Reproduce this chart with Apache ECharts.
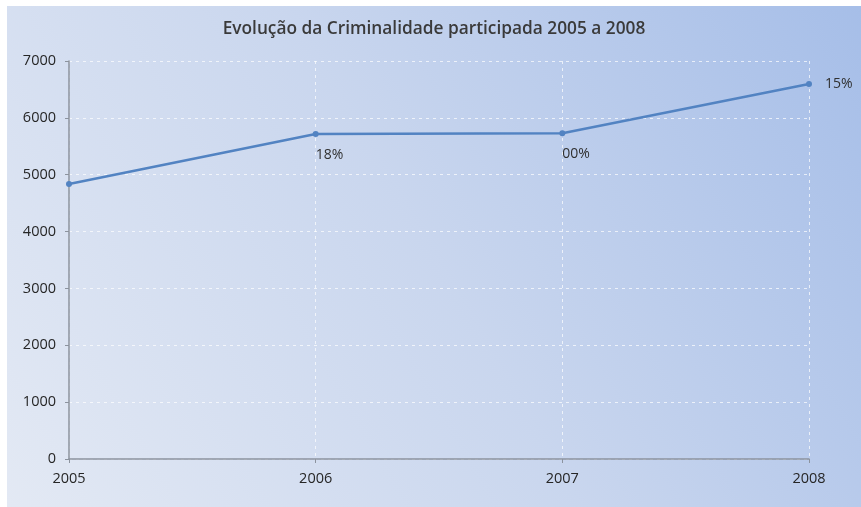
<!DOCTYPE html>
<html>
<head>
<meta charset="utf-8">
<script src="https://cdn.jsdelivr.net/npm/echarts@6/dist/echarts.min.js"></script>
<style>
  html, body { margin: 0; padding: 0; background: #ffffff; width: 861px; height: 507px; overflow: hidden; }
  #chart { position: absolute; left: 7px; top: 6px; width: 854px; height: 501px; }
</style>
</head>
<body>
<div id="chart"></div>
<script>
// Reported crime per year
const years = ['2005', '2006', '2007', '2008'];
const ocorrencias = [4835, 5715, 5730, 6595];
// Year-on-year change shown next to each point
const variacao = ['', '18%', '00%', '15%'];
const yTicks = { min: 0, max: 7000, interval: 1000 };

const chart = echarts.init(document.getElementById('chart'));

const labelPos = ['bottom', 'bottom', 'bottom', 'right'];
const font = 'Open Sans';

chart.setOption({
  animation: false,
  backgroundColor: {
    type: 'linear', x: 0, y: 1, x2: 1, y2: 0,
    colorStops: [
      { offset: 0, color: '#e3e9f4' },
      { offset: 0.5, color: '#c9d6ee' },
      { offset: 1, color: '#a6bee8' }
    ]
  },
  title: {
    text: 'Evolução da Criminalidade participada 2005 a 2008',
    left: 'center',
    top: 10,
    textStyle: { fontFamily: font, fontSize: 17.3, fontWeight: 600, color: '#3a3a3a' }
  },
  grid: { left: 62, top: 55, width: 740, height: 398, containLabel: false },
  xAxis: {
    type: 'category',
    data: years,
    boundaryGap: false,
    axisLine: { lineStyle: { color: '#8c939e', width: 1.5 } },
    axisTick: { show: true, length: 4, lineStyle: { color: '#8c939e' } },
    axisLabel: { margin: 12, fontFamily: font, fontSize: 14.5, color: '#262626' },
    splitLine: { show: true, lineStyle: { type: [3, 4], color: 'rgba(255,255,255,0.7)', width: 1 } }
  },
  yAxis: {
    type: 'value',
    min: yTicks.min,
    max: yTicks.max,
    interval: yTicks.interval,
    axisLine: { show: true, lineStyle: { color: '#8c939e', width: 1.5 } },
    axisTick: { show: true, length: 4, lineStyle: { color: '#8c939e' } },
    axisLabel: { margin: 13, fontFamily: font, fontSize: 14.5, color: '#262626', formatter: v => String(v) },
    splitLine: { show: true, lineStyle: { type: [3, 4], color: 'rgba(255,255,255,0.7)', width: 1 } }
  },
  series: [{
    type: 'line',
    data: ocorrencias.map((v, i) => ({
      value: v,
      label: {
        show: variacao[i] !== '',
        formatter: variacao[i],
        position: labelPos[i],
        align: labelPos[i] === 'bottom' ? 'left' : undefined,
        offset: labelPos[i] === 'bottom' ? [0, 6] : [8, 0]
      }
    })),
    symbol: 'circle',
    symbolSize: 6,
    lineStyle: { color: '#5283c2', width: 2.5 },
    itemStyle: { color: '#5283c2' },
    label: { fontFamily: font, fontSize: 14, color: '#303030' }
  }]
});
</script>
</body>
</html>
